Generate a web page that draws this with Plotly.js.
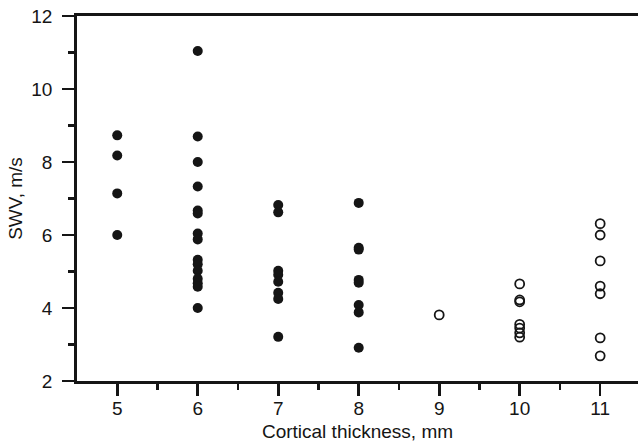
<!DOCTYPE html>
<html>
<head>
<meta charset="utf-8">
<script src="https://cdn.plot.ly/plotly-3.0.1.min.js"></script>
<style>html,body{margin:0;padding:0;background:#fff;}#chart{width:638px;height:448px;}</style>
</head>
<body>
<div id="chart"></div>
<script>
// Filled circles (thickness 5-8 mm)
const filledThickness = [5,5,5,5,
  6,6,6,6,6,6,6,6,6,6,6,6,6,6,6,
  7,7,7,7,7,7,7,7,
  8,8,8,8,8,8,8,8];
const filledSWV = [8.73,8.18,7.14,6.0,
  11.04,8.70,8.0,7.33,6.67,6.59,6.04,5.88,5.32,5.2,5.02,4.8,4.68,4.58,4.0,
  6.82,6.62,5.02,4.91,4.72,4.42,4.25,3.21,
  6.88,5.65,5.6,4.77,4.69,4.08,3.88,2.91];
// Open circles (thickness 9-11 mm)
const openThickness = [9,
  10,10,10,10,10,10,10,
  11,11,11,11,11,11,11];
const openSWV = [3.81,
  4.66,4.22,4.17,3.55,3.45,3.32,3.2,
  6.31,6.0,5.29,4.60,4.39,3.18,2.69];
const xTicks = [5,6,7,8,9,10,11];
const yTicks = [2,4,6,8,10,12];

const ink = '#151515';
const traces = [
  {x: filledThickness, y: filledSWV, type:'scatter', mode:'markers',
   marker:{symbol:'circle', size:10, color:ink}, cliponaxis:false},
  {x: openThickness, y: openSWV, type:'scatter', mode:'markers',
   marker:{symbol:'circle-open', size:9, color:ink, line:{width:1.8, color:ink}}, cliponaxis:false}
];
const layout = {
  width:638, height:448,
  margin:{l:77, r:0, t:16, b:67},
  paper_bgcolor:'#fff', plot_bgcolor:'#fff',
  showlegend:false,
  font:{family:'"Liberation Sans", Arial, Helvetica, sans-serif', size:19, color:ink},
  xaxis:{
    range:[4.5, 11.47], tickvals:xTicks, ticktext:xTicks.map(String),
    showgrid:false, zeroline:false,
    showline:true, linewidth:2.8, linecolor:ink, mirror:true,
    ticks:'outside', ticklen:12, tickwidth:2.6, tickcolor:ink,
    ticklabelstandoff:-4,
    minor:{tickvals:[5.5,6.5,7.5,8.5,9.5,10.5], ticks:'outside', ticklen:6, tickwidth:2.6, tickcolor:ink, showgrid:false},
    title:{text:'Cortical thickness, mm', standoff:8, font:{size:19}},
    fixedrange:true
  },
  yaxis:{
    range:[2, 12], tickvals:yTicks, ticktext:yTicks.map(String),
    showgrid:false, zeroline:false,
    showline:true, linewidth:2.8, linecolor:ink,
    ticks:'outside', ticklen:12, tickwidth:2.6, tickcolor:ink,
    ticklabelstandoff:6,
    minor:{tickvals:[3,5,7,9,11], ticks:'outside', ticklen:6, tickwidth:2.6, tickcolor:ink, showgrid:false},
    title:{text:'SWV, m/s', standoff:4, font:{size:19}},
    fixedrange:true
  }
};
Plotly.newPlot('chart', traces, layout, {staticPlot:true, displayModeBar:false});
</script>
</body>
</html>
